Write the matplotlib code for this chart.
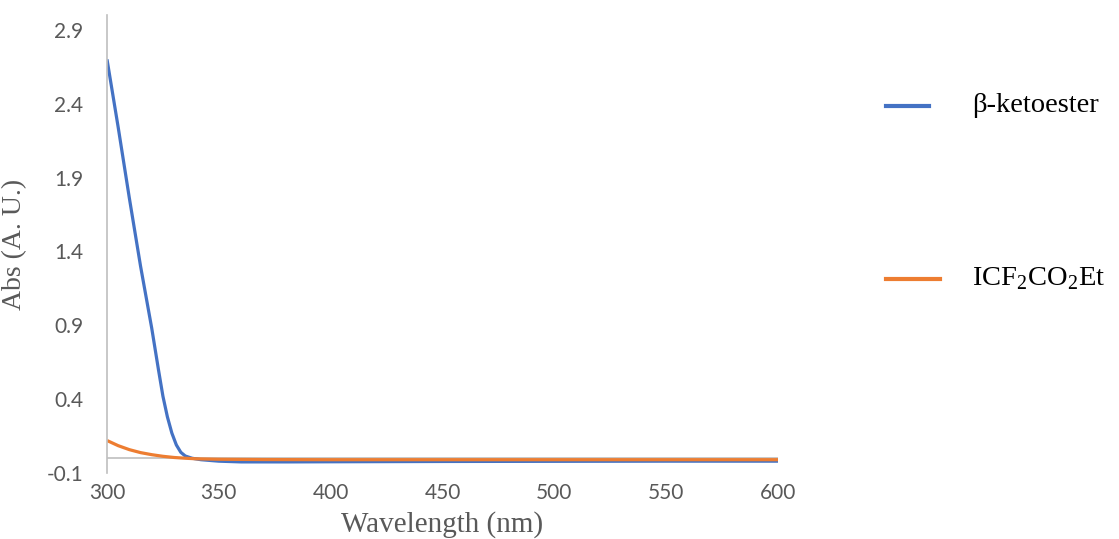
import numpy as np
import matplotlib.pyplot as plt
from matplotlib.lines import Line2D

plt.rcParams['mathtext.fontset'] = 'custom'
plt.rcParams['mathtext.rm'] = 'Liberation Serif'

# absorbance spectra (nm, A.U.)
wl_keto = [300, 305, 310, 315, 320, 323, 325, 327, 329, 331, 333, 335, 338, 342,
           350, 360, 380, 400, 450, 500, 550, 600]
abs_keto = [2.70, 2.24, 1.76, 1.30, 0.88, 0.60, 0.42, 0.28, 0.17, 0.09, 0.04, 0.015,
            0.0, -0.01, -0.02, -0.025, -0.025, -0.024, -0.022, -0.021, -0.02, -0.02]

wl_icf = [300, 305, 310, 315, 320, 325, 330, 335, 340, 350, 370, 400, 450, 500, 550, 600]
abs_icf = [0.12, 0.085, 0.058, 0.038, 0.024, 0.013, 0.005, 0.0, -0.004, -0.007,
           -0.009, -0.01, -0.01, -0.01, -0.01, -0.01]

labels = ['β-ketoester', r'ICF$_2$CO$_2$Et']
colors = ['#4472C4', '#ED7D31']
yticks = [-0.1, 0.4, 0.9, 1.4, 1.9, 2.4, 2.9]
xticks = [300, 350, 400, 450, 500, 550, 600]

fig = plt.figure(figsize=(11.19, 5.39), dpi=100)
ax = fig.add_axes([107 / 1119, 1 - 473 / 539, 671 / 1119, 458 / 539])

ax.plot(wl_keto, abs_keto, color=colors[0], lw=2.3, solid_capstyle='butt')
ax.plot(wl_icf, abs_icf, color=colors[1], lw=2.3, solid_capstyle='butt')
ax.axhline(0, color='#bfbfbf', lw=1.2, zorder=0)

ax.set_xlim(300, 600)
ax.set_ylim(-0.1, 3.0)
ax.set_xticks(xticks)
ax.set_yticks(yticks)
ax.set_yticklabels([f'{v:.1f}' for v in yticks])
for s in ['top', 'right', 'bottom']:
    ax.spines[s].set_visible(False)
ax.spines['left'].set_color('#bfbfbf')
ax.spines['left'].set_linewidth(1.2)
ax.tick_params(length=0, labelsize=15, labelcolor='#595959')
ax.tick_params(axis='y', pad=17)
ax.tick_params(axis='x', pad=7)
for t in ax.get_xticklabels() + ax.get_yticklabels():
    t.set_family('Lato')

ax.set_xlabel('Wavelength (nm)', family='Liberation Serif', fontsize=21,
              color='#595959', labelpad=6)
ax.set_ylabel('Abs (A. U.)', family='Liberation Serif', fontsize=20,
              color='#595959', labelpad=14)

# legend entries placed far apart on the right
for lab, col, y, x1 in zip(labels, colors, [106, 279], [929, 940]):
    yf = 1 - y / 539
    fig.add_artist(Line2D([886 / 1119, x1 / 1119], [yf, yf], color=col, lw=3,
                          transform=fig.transFigure))
    fig.text(972 / 1119, yf, lab, family='Liberation Serif', fontsize=20.5,
             color='black', va='center', ha='left')

fig.savefig('out.png', dpi=100)
